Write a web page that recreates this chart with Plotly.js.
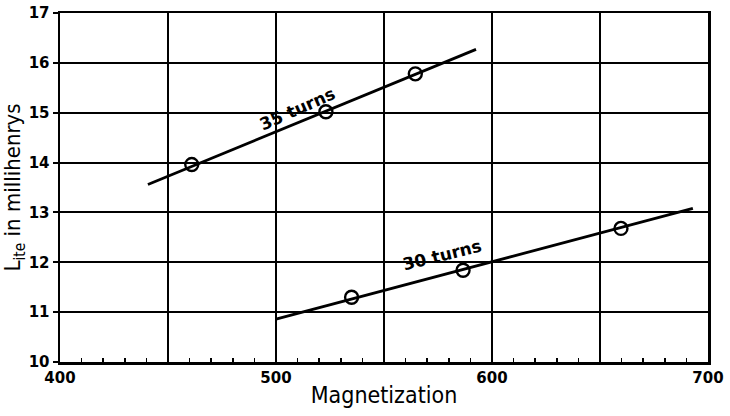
<!DOCTYPE html>
<html><head><meta charset="utf-8">
<script src="https://cdn.plot.ly/plotly-3.0.1.min.js"></script>
<style>html,body{margin:0;padding:0;background:#fff}#chart{width:730px;height:416px}</style>
</head><body><div id="chart"></div>
<script>
const x35 = [461, 523.1, 564.5];
const y35 = [13.96, 15.02, 15.78];
const fit35X = [440.7, 592.6];
const fit35Y = [13.56, 16.27];
const x30 = [535, 586.6, 659.7];
const y30 = [11.3, 11.84, 12.68];
const fit30X = [500, 693];
const fit30Y = [10.86, 13.08];
const xTickVals = [400, 500, 600, 700];
const yTickVals = [10, 11, 12, 13, 14, 15, 16, 17];

const lineStyle = {color: '#000', width: 2.8};
const markerStyle = {symbol: 'circle-open', size: 13, color: '#000', line: {width: 2.4, color: '#000'}};
const traces = [
  {x: fit35X, y: fit35Y, mode: 'lines', line: lineStyle, hoverinfo: 'skip'},
  {x: x35, y: y35, mode: 'markers', marker: markerStyle},
  {x: fit30X, y: fit30Y, mode: 'lines', line: lineStyle, hoverinfo: 'skip'},
  {x: x30, y: y30, mode: 'markers', marker: markerStyle},
  {x: [400, 700], y: [10, 10], xaxis: 'x2', mode: 'lines', line: {width: 0}, hoverinfo: 'skip'}
];
const tickFont = {family: 'DejaVu Sans, sans-serif', size: 15, color: '#000', weight: 'bold'};
const titleFont = {family: 'DejaVu Sans Condensed, DejaVu Sans, sans-serif', size: 23, color: '#000'};
const layout = {
  width: 730, height: 416,
  margin: {l: 60, r: 22, t: 13, b: 54},
  paper_bgcolor: '#fff', plot_bgcolor: '#fff',
  showlegend: false,
  xaxis: {
    range: [400, 700], tickmode: 'array', tickvals: xTickVals,
    showgrid: true, gridcolor: '#000', gridwidth: 2,
    showline: true, linecolor: '#000', linewidth: 2.5, mirror: true,
    ticks: '', tickfont: tickFont, zeroline: false,
    minor: {dtick: 50, showgrid: true, gridcolor: '#000', gridwidth: 2, ticks: ''},
    title: {text: 'Magnetization', font: titleFont, standoff: 2}
  },
  xaxis2: {
    overlaying: 'x', matches: 'x', range: [400, 700], anchor: 'y', side: 'bottom',
    dtick: 10, ticks: 'inside', ticklen: 4, tickwidth: 1.5, tickcolor: '#000',
    showticklabels: false, showgrid: false, showline: false, zeroline: false
  },
  yaxis: {
    range: [10, 17], tickmode: 'array', tickvals: yTickVals,
    showgrid: true, gridcolor: '#000', gridwidth: 2,
    showline: true, linecolor: '#000', linewidth: 2.5, mirror: true,
    ticks: 'outside', ticklen: 5, tickwidth: 2, tickcolor: '#000',
    tickfont: tickFont, zeroline: false,
    title: {text: 'L<sub>ite</sub> in millihenrys', font: {family: 'DejaVu Sans Condensed, DejaVu Sans, sans-serif', size: 22, color: '#000'}, standoff: 2}
  },
  annotations: [
    {x: 509.7, y: 15.08, xref: 'x', yref: 'y', text: '35 turns', showarrow: false, textangle: -24,
     font: {family: 'DejaVu Sans, sans-serif', size: 17, color: '#000', weight: 'bold'}},
    {x: 576.9, y: 12.14, xref: 'x', yref: 'y', text: '30 turns', showarrow: false, textangle: -14,
     font: {family: 'DejaVu Sans, sans-serif', size: 17, color: '#000', weight: 'bold'}}
  ]
};
Plotly.newPlot('chart', traces, layout, {displayModeBar: false, staticPlot: true});
</script>
</body></html>
